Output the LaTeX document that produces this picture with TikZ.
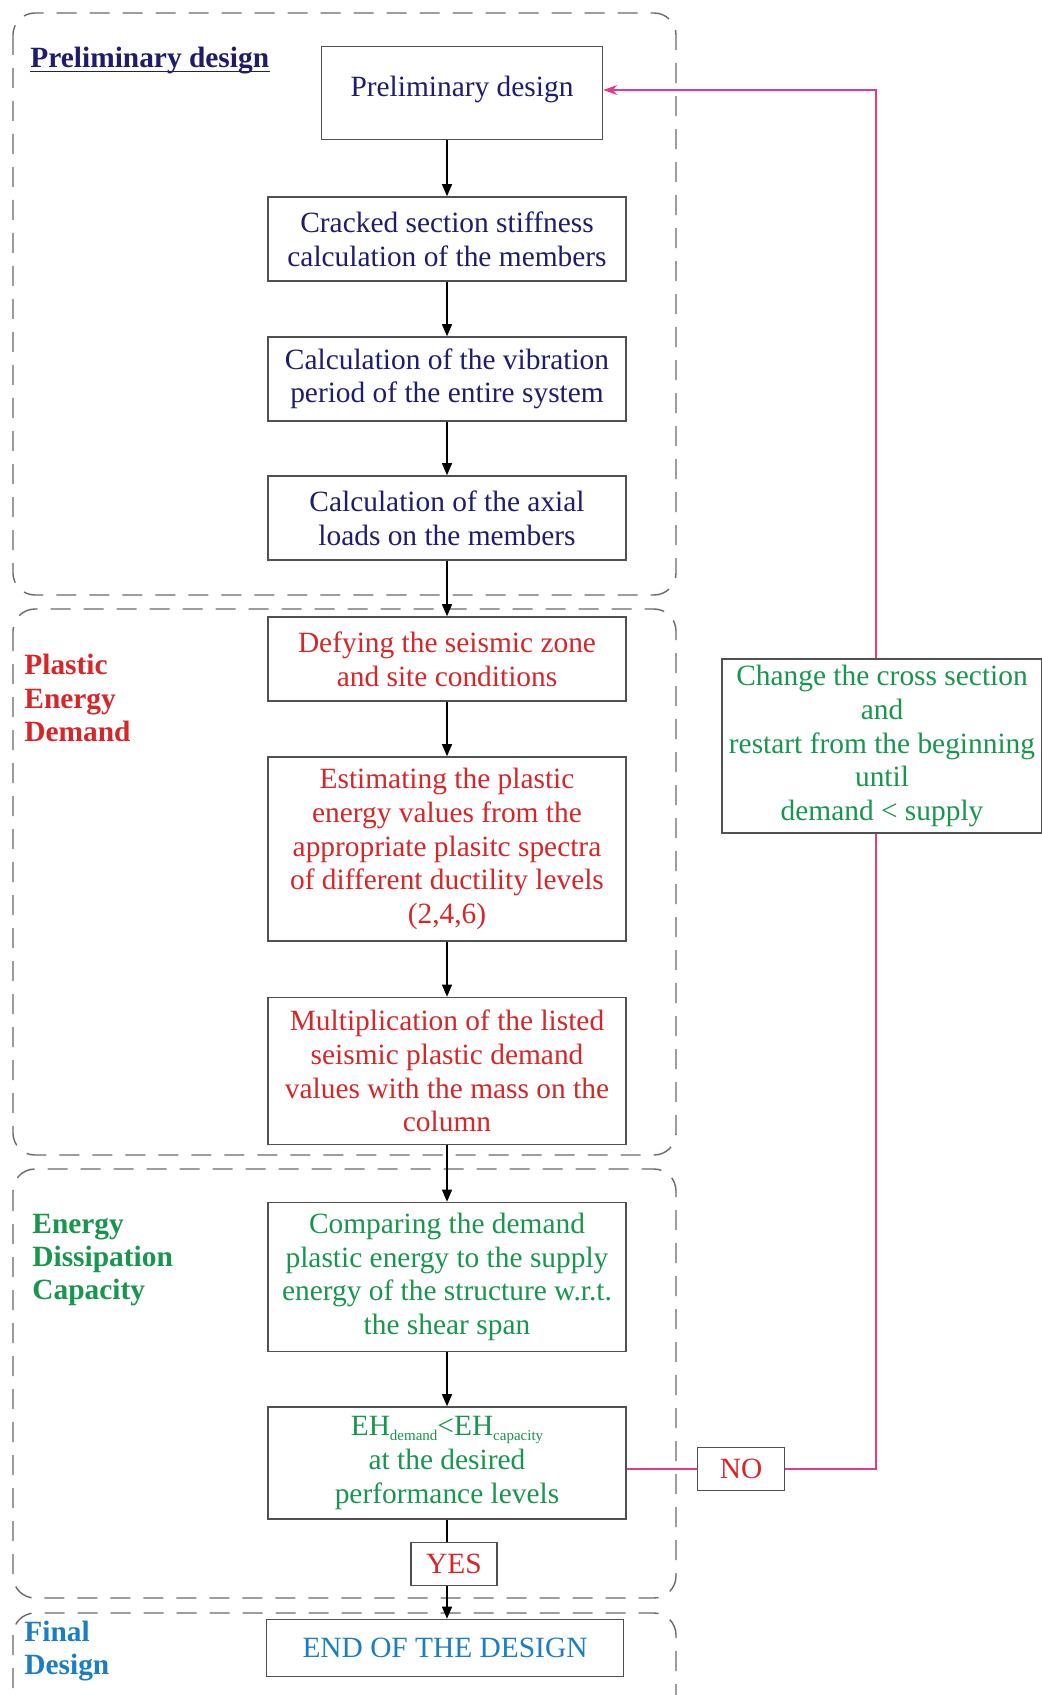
\documentclass[tikz,border=0pt]{standalone}
\usepackage{fontspec}
\setmainfont{Liberation Serif}
\usepackage{tikz}
\usetikzlibrary{arrows.meta, positioning}

\definecolor{navytext}{RGB}{30,28,110}
\definecolor{redtext}{RGB}{214,38,40}
\definecolor{greentext}{RGB}{24,150,78}
\definecolor{bluetext}{RGB}{28,124,196}
\definecolor{loopcol}{RGB}{226,58,140}
\definecolor{boxgray}{RGB}{80,80,80}
\definecolor{framegray}{RGB}{105,105,105}

\newcommand{\smallsub}[1]{\raisebox{-2.5pt}{\fontsize{7.5}{8}\selectfont #1}}

\begin{document}
\begin{tikzpicture}[
        x=0.5pt, y=-0.5pt,
        stepbox/.style={rectangle, draw=boxgray, line width=0.8pt, fill=white, minimum width=179pt, align=center, inner sep=2pt, font=\fontsize{14.7}{16.8}\selectfont},
        prelim/.style={stepbox, text=navytext},
        demand/.style={stepbox, text=redtext},
        capacity/.style={stepbox, text=greentext},
        flowarrow/.style={-{Triangle[length=6pt, width=5pt]}, line width=0.6pt, color=black},
        loopline/.style={line width=0.6pt, color=loopcol},
        stageframe/.style={draw=framegray, dash pattern=on 10pt off 6.5pt, line width=0.7pt, rounded corners=11pt},
        stagelabel/.style={anchor=west, align=left, inner sep=0pt, font=\fontsize{14.7}{16.6}\selectfont\bfseries}
    ]
        \useasboundingbox (0,0) rectangle (1042,1695);
        \clip (0,0) rectangle (1042,1695);

        % Stage frames
        \draw[stageframe] (13,13) rectangle (676,595);
        \draw[stageframe] (13,609) rectangle (676,1155);
        \draw[stageframe] (13,1169) rectangle (676,1598);
        \draw[stageframe] (13,1613) rectangle (676,1760);

        % Stage titles
        \node[stagelabel, text=navytext] (tpre) at (30,61) {Preliminary design};
        \draw[navytext, line width=0.6pt] ([yshift=-1.8pt]tpre.base west) -- ([yshift=-1.8pt]tpre.base east);
        \node[stagelabel, text=redtext] (tdem) at (24,698) {Plastic\\Energy\\Demand};
        \node[stagelabel, text=greentext] (tcap) at (32,1260) {Energy\\Dissipation\\Capacity};
        \node[stagelabel, text=bluetext] (tfin) at (24,1651) {Final\\Design};

        % Preliminary design
        \node[prelim, minimum width=140.5pt, minimum height=46.5pt] (pd) at (462,93) {\raisebox{6.5pt}{Preliminary design}};
        \node[prelim, minimum height=42pt] (crk) at (447,239) {Cracked section stiffness\\calculation of the members};
        \node[prelim, minimum height=42pt] (per) at (447,379) {Calculation of the vibration\\period of the entire system};
        \node[prelim, minimum height=42pt] (axl) at (447,518) {Calculation of the axial\\loads on the members};

        % Plastic energy demand
        \node[demand, minimum height=42pt] (zone) at (447,659) {Defying the seismic zone\\and site conditions};
        \node[demand, minimum height=92pt] (spec) at (447,849) {Estimating the plastic\\energy values from the\\appropriate plasitc spectra\\of different ductility levels\\(2,4,6)};
        \node[demand, minimum height=73.5pt] (mass) at (447,1071) {Multiplication of the listed\\seismic plastic demand\\values with the mass on the\\column};

        % Energy dissipation capacity
        \node[capacity, minimum height=74.5pt] (cmp) at (447,1277) {Comparing the demand\\plastic energy to the supply\\energy of the structure w.r.t.\\the shear span};
        \node[capacity, minimum height=56pt] (eh) at (447,1463) {EH\smallsub{demand}<EH\smallsub{capacity}\\at the desired\\performance levels};
        \node[stepbox, text=redtext, minimum width=43pt, minimum height=21.5pt] (yes) at (454,1564) {YES};
        \node[stepbox, text=redtext, minimum width=43.5pt, minimum height=21.5pt] (no) at (741,1469) {NO};
        \node[capacity, minimum width=160pt, minimum height=87pt] (chg) at (882,746) {Change the cross section\\and\\restart from the beginning\\until\\demand < supply};

        % Final design
        \node[stepbox, text=bluetext, minimum width=178.5pt, minimum height=28.5pt] (fin) at (445,1648) {END OF THE DESIGN};

        % Main flow
        \draw[flowarrow] (pd.south -| crk.north) -- (crk.north);
        \draw[flowarrow] (crk) -- (per);
        \draw[flowarrow] (per) -- (axl);
        \draw[flowarrow] (axl) -- (zone);
        \draw[flowarrow] (zone) -- (spec);
        \draw[flowarrow] (spec) -- (mass);
        \draw[flowarrow] (mass) -- (cmp);
        \draw[flowarrow] (cmp) -- (eh);
        \draw[line width=0.6pt] (eh.south) -- (eh.south |- yes.north);
        \draw[flowarrow] (yes.south -| eh.south) -- (fin.north -| eh.south);

        % Loop back to the start
        \coordinate (back) at ([xshift=-3pt]chg.south);
        \draw[loopline] (no.west -| eh.east) -- (no.west);
        \draw[loopline] (no.east) -| (back);
        \draw[loopline, -{Stealth[length=7pt, width=5pt]}] (back |- chg.north) |- ([yshift=1.5pt]pd.east);
    \end{tikzpicture}
\end{document}
